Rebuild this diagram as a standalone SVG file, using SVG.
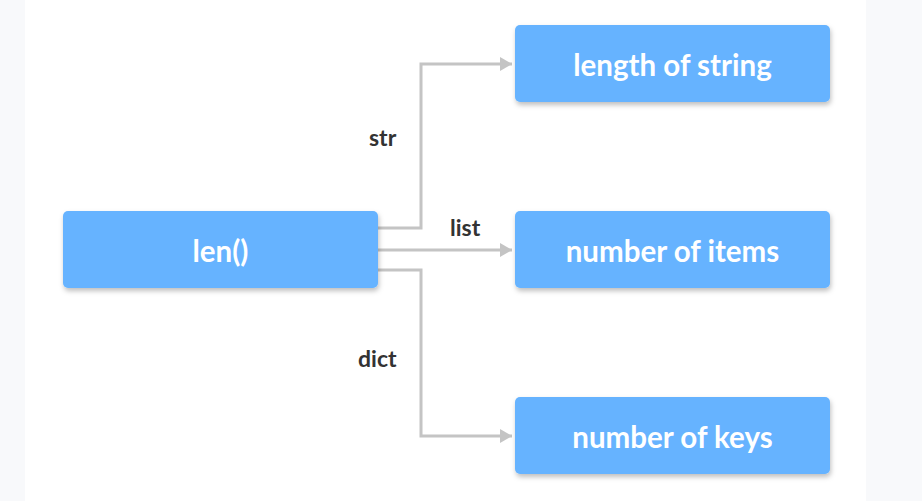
<svg xmlns="http://www.w3.org/2000/svg" width="922" height="501" viewBox="0 0 922 501">
<style>
.box{fill:#66b3ff}
.bt{font-family:Lato,"Liberation Sans",sans-serif;font-weight:700;font-size:29.5px;fill:#ffffff;text-anchor:middle}
.lb{font-family:Lato,"Liberation Sans",sans-serif;font-weight:700;font-size:23px;fill:#333333}
.cn{fill:none;stroke:#c4c4c4;stroke-width:3}
</style>
<defs>
<filter id="sh" x="-10%" y="-20%" width="120%" height="150%">
<feDropShadow dx="1" dy="3" stdDeviation="2.5" flood-color="#000" flood-opacity="0.25"/>
</filter>
<marker id="ah" markerWidth="12" markerHeight="14" refX="12" refY="7" orient="auto" markerUnits="userSpaceOnUse">
<path d="M0,0 L12,7 L0,14 Z" fill="#c4c4c4"/>
</marker>
</defs>
<rect x="0" y="0" width="922" height="501" fill="#f8f9fb"/>
<rect x="25" y="0" width="841" height="501" fill="#ffffff"/>
<g id="connectors">
<path class="cn" d="M378,228 H421 V64 H512" marker-end="url(#ah)"/>
<path class="cn" d="M378,250 H512" marker-end="url(#ah)"/>
<path class="cn" d="M378,270 H421 V436 H512" marker-end="url(#ah)"/>
<text class="lb" x="369" y="146">str</text>
<text class="lb" x="450" y="236">list</text>
<text class="lb" x="358" y="367">dict</text>
</g>
<g id="len">
<rect class="box" x="63" y="211" width="315" height="77" rx="5" filter="url(#sh)"/>
<text class="bt" x="220.5" y="262">len()</text>
</g>
<g id="string">
<rect class="box" x="515" y="25" width="315" height="77" rx="5" filter="url(#sh)"/>
<text class="bt" x="672.5" y="76">length of string</text>
</g>
<g id="items">
<rect class="box" x="515" y="211" width="315" height="77" rx="5" filter="url(#sh)"/>
<text class="bt" x="672.5" y="262">number of items</text>
</g>
<g id="keys">
<rect class="box" x="515" y="397" width="315" height="77" rx="5" filter="url(#sh)"/>
<text class="bt" x="672.5" y="448">number of keys</text>
</g>
</svg>
